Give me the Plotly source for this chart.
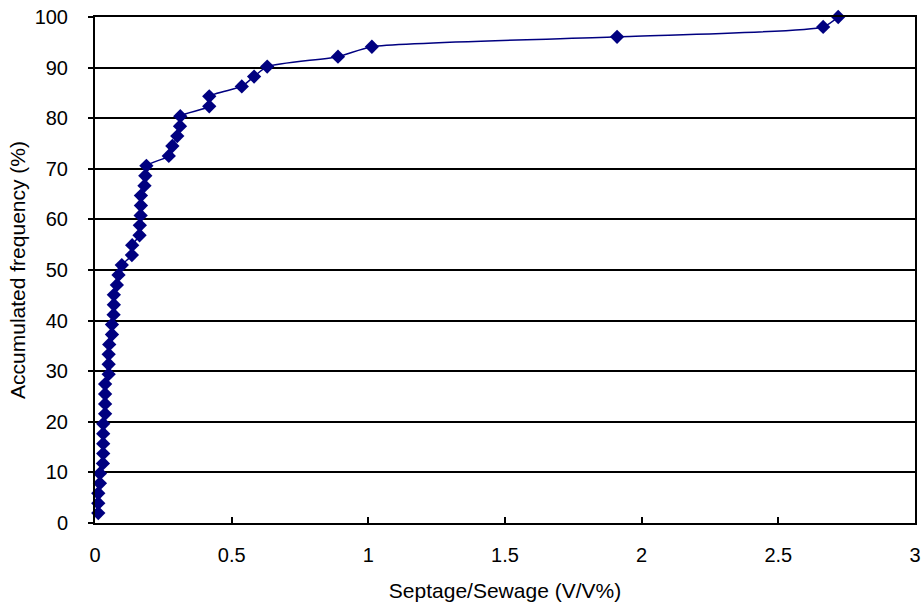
import plotly.graph_objects as go

# Septage/Sewage ratio (V/V%) for each sample, sorted
septage_ratio = [
    0.012, 0.012, 0.012, 0.018, 0.018, 0.029, 0.030, 0.030, 0.030, 0.030,
    0.037, 0.037, 0.037, 0.037, 0.050, 0.050, 0.050, 0.052, 0.062, 0.062,
    0.068, 0.069, 0.069, 0.080, 0.086, 0.098, 0.135, 0.136, 0.163, 0.164,
    0.167, 0.168, 0.168, 0.181, 0.184, 0.188, 0.270, 0.283, 0.301, 0.311,
    0.312, 0.418, 0.418, 0.537, 0.582, 0.630, 0.889, 1.013, 1.910, 2.664,
    2.719,
]
n_samples = len(septage_ratio)
# Accumulated frequency (%) : k / n * 100
accumulated_freq = [k * 100.0 / n_samples for k in range(1, n_samples + 1)]

x_ticks = [0, 0.5, 1, 1.5, 2, 2.5, 3]
x_tick_labels = ["0", "0.5", "1", "1.5", "2", "2.5", "3"]
y_ticks = list(range(0, 101, 10))

FONT = "Liberation Sans, Arial, sans-serif"

fig = go.Figure()
fig.add_trace(go.Scatter(
    x=septage_ratio,
    y=accumulated_freq,
    mode="lines+markers",
    line=dict(color="#000080", width=1.5, shape="spline", smoothing=0.6),
    marker=dict(symbol="diamond", size=11, color="#000080"),
    showlegend=False,
    cliponaxis=False,
))

fig.update_layout(
    width=922, height=604,
    margin=dict(l=95, r=7, t=17, b=81),
    paper_bgcolor="white", plot_bgcolor="white",
    font=dict(family=FONT, size=20, color="black"),
    xaxis=dict(
        range=[0, 3], tickvals=x_ticks, ticktext=x_tick_labels,
        automargin=False,
        showgrid=False, zeroline=False,
        showline=True, linecolor="black", linewidth=2, mirror=True,
        ticks="inside", ticklen=6, tickwidth=1.5, tickcolor="black",
        ticklabelstandoff=13,
        title=dict(text="Septage/Sewage (V/V%)", standoff=18,
                   font=dict(family=FONT, size=21)),
        tickfont=dict(family=FONT, size=20),
    ),
    yaxis=dict(
        range=[0, 100], tickvals=y_ticks,
        automargin=False,
        showgrid=True, gridcolor="black", gridwidth=1.5,
        zeroline=False,
        showline=True, linecolor="black", linewidth=2, mirror=True,
        ticks="outside", ticklen=5, tickwidth=1.5, tickcolor="black",
        ticklabelstandoff=16,
        title=dict(text="Accumulated frequency (%)", standoff=3,
                   font=dict(family=FONT, size=21)),
        tickfont=dict(family=FONT, size=20),
    ),
)

fig.write_html(
    "out.html",
    config={"displayModeBar": False},
    post_script="document.body.style.margin='0';document.body.style.overflow='hidden';",
)
